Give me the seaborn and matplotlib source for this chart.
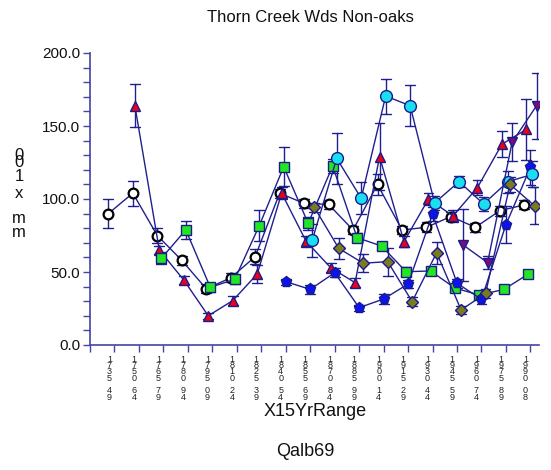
import numpy as np
import pandas as pd
import matplotlib
matplotlib.use("Agg")
import matplotlib.pyplot as plt
from matplotlib.ticker import MultipleLocator, FixedLocator
import seaborn as sns

# ---------------- data ----------------
labels = ["1735-49", "1750-64", "1765-79", "1780-94", "1795-09", "1810-24",
          "1825-39", "1840-54", "1855-69", "1870-84", "1885-99", "1900-14",
          "1915-29", "1930-44", "1945-59", "1960-74", "1975-89", "1990-08"]

series_names = ["S1", "S2", "S3", "S4", "S5", "S6", "S7"]

s1_vals = [90, 104, 75, 58, 38.5, 46, 60.5, 104, 97, 96.3, 78.8, 110, 78.8, 80.6, 88, 80.6, 92, 96]
s1_errs = [10, 8.6, 5, 3, 3, 3, 5, 3, 3, 3, 3, 7, 3, 3.4, 3, 3, 3.4, 3]

s2_vals = [None, 164, 65, 44.5, 20, 30.4, 48.6, 104, 71, 53, 42.7, 129, 70.8, 100, 88.4, 107.8, 137.5, 147.7]
s2_errs = [None, 15, 3, 3, 2, 3, 6, 4, 4, 3, 3, 23, 4, 4, 4, 5, 9, 21]

s3_vals = [None, None, 59.4, 78.8, 39.5, 45, 81.7, 122.1, 83.3, 122.6, 73.5, 67.8, 50.2, 50.7, 39, 34.2, 38.1, 48.6]
s3_errs = [None, None, 4, 6.4, 3, 3, 10.6, 13.5, 4.5, 5, 3, 3, 3, 3, 3, 3, 2, 2]

s4_vals = [None] * 7 + [43.4, 38.1, 49.5, 25.6, 31.5, 41.8, 89.7, 42.3, 31.3, 82.5, 121.7]
s4_errs = [None] * 7 + [2, 3, 3, 2, 3.6, 3, 5, 3, 3, 12.5, 12]

s5_vals = [None] * 8 + [71.9, 127.8, 100.5, 170.5, 163.9, 97.3, 111.9, 96.6, 111.9, 116.9]
s5_errs = [None] * 8 + [11.3, 17.5, 11, 12, 14, 5, 4, 5, 7.5, 9]

s6_vals = [None] * 8 + [94.3, 66.2, 56, 57.1, 29.7, 63.2, 24, 35.4, 110, 95.4]
s6_errs = [None] * 8 + [3, 7.4, 6, 9.5, 3, 7.6, 3, 3, 5, 12.5]

s7_vals = [None] * 14 + [68.5, 56.4, 138.8, 163.9]
s7_errs = [None] * 14 + [24.5, 4.5, 13, 22.6]

y_ticks = [0, 50, 100, 150, 200]
y_tick_labels = ["0.0", "50.0", "100.0", "150.0", "200.0"]

# ---------------- styles ----------------
face_colors = ["#ffffff", "#e8001c", "#22e622", "#0a14f0", "#18e0f0", "#7a7a1e", "#7a0a80"]
edge_colors = ["#000000", "#1a1a8a", "#1a1a8a", "#1a1a8a", "#1a1a8a", "#1a1a8a", "#1a1a8a"]
markers = ["o", "^", "s", "p", "o", "D", "v"]
marker_sizes = [7, 7.5, 6.5, 8, 8.5, 6, 7.5]
navy = "#1f1f8f"
axis_col = "#4444a4"

sns.set_theme(style="ticks")
plt.rcParams['font.family'] = ['Liberation Sans', 'DejaVu Sans']

all_vals = [s1_vals, s2_vals, s3_vals, s4_vals, s5_vals, s6_vals, s7_vals]
all_errs = [s1_errs, s2_errs, s3_errs, s4_errs, s5_errs, s6_errs, s7_errs]
rows = []
for name, vals, errs in zip(series_names, all_vals, all_errs):
    for lab, v, e in zip(labels, vals, errs):
        if v is None:
            continue
        rows.append({"range": lab, "series": name, "value": v - e})
        rows.append({"range": lab, "series": name, "value": v + e})
df = pd.DataFrame(rows)

W, H = 551, 470
fig = plt.figure(figsize=(W / 100, H / 100), dpi=100)
ax = fig.add_axes([90 / W, 1 - 345 / H, 449 / W, 292 / H])

sns.pointplot(data=df, x="range", y="value", hue="series", order=labels,
              hue_order=series_names, palette=face_colors, markers=markers,
              linestyles="-", dodge=0.5,
              errorbar=lambda x: (x.min(), x.max()), capsize=0.4,
              err_kws={"color": navy, "linewidth": 1.0},
              linewidth=1.0, markersize=7, markeredgewidth=1.0,
              legend=False, ax=ax)

series_lines = [l for l in ax.lines if l.get_marker() not in (None, "None", "", " ")]
for i, line in enumerate(series_lines):
    line.set_markerfacecolor(face_colors[i])
    line.set_color(navy)
    line.set_markeredgecolor(edge_colors[i])
    line.set_markersize(marker_sizes[i])
    if i == 0:
        line.set_markeredgewidth(1.6)
    line.set_zorder(3 + i * 0.1)

ax.set_xlim(-1, 17.35)
ax.set_ylim(0, 200)
ax.set_xlabel("")
ax.set_ylabel("")

for s in ["top", "right"]:
    ax.spines[s].set_visible(False)
for s in ["left", "bottom"]:
    ax.spines[s].set_color(axis_col)
    ax.spines[s].set_linewidth(1.2)

# labels sit slightly left of the tick marks, as in the reference
stacked = ["\n".join(ch if ch != "-" else " " for ch in lab) for lab in labels]
label_shift = 5 / 24.5
ax.set_xticks([k - label_shift for k in range(len(labels))])
ax.set_xticklabels(stacked, fontsize=6.5, linespacing=0.62, color="#222222", va="top")
ax.xaxis.set_minor_locator(FixedLocator(list(range(-1, len(labels)))))
ax.tick_params(axis="x", which="major", length=0, pad=7)
ax.tick_params(axis="x", which="minor", direction="out", length=5, width=1,
               color=axis_col)

ax.set_yticks(y_ticks)
ax.set_yticklabels(y_tick_labels, fontsize=11, color="#111111")
ax.yaxis.set_minor_locator(MultipleLocator(10))
ax.tick_params(axis="y", which="both", direction="out", length=5, width=1,
               color=axis_col, pad=2)
ax.grid(False)

fig.text(310 / W, 1 - 17 / H, "Thorn Creek Wds Non-oaks", ha="center", va="center",
         fontsize=12, color="#111111")
fig.text(315 / W, 1 - 411 / H, "X15YrRange", ha="center", va="center",
         fontsize=13, color="#111111")
fig.text(305 / W, 1 - 452 / H, "Qalb69", ha="center", va="center",
         fontsize=13, color="#111111")

# stacked y-axis label characters
for ch, base in [("0", 160), ("0", 167), ("1", 181), ("x", 198), ("m", 223), ("m", 237)]:
    fig.text(19 / W, 1 - base / H, ch, ha="center", va="baseline", fontsize=12,
             color="#111111")

fig.savefig("out.png", dpi=100, facecolor="white")
